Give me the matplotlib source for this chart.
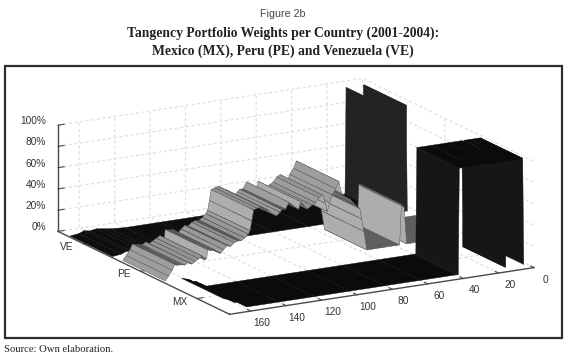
import matplotlib
matplotlib.use("Agg")
import matplotlib.pyplot as plt
from matplotlib.patches import Rectangle
from mpl_toolkits.mplot3d.art3d import Poly3DCollection
from mpl_toolkits.mplot3d import proj3d

# ---- data (period index, weight %) ----
countries = ["VE", "PE", "MX"]
x_ticks = [0, 20, 40, 60, 80, 100, 120, 140, 160]
z_ticks = [0, 20, 40, 60, 80, 100]
z_labels = ["0%", "20%", "40%", "60%", "80%", "100%"]

ve_x = [171, 166, 163, 160, 156, 152, 148, 140, 120, 100, 80, 60, 40, 16, 15.6, 15, 14.4, 5.6, 5, 4.4]
ve_z = [0, 1, 3, 2, 3, 2, 1, 0, 0, 0, 0, 0, 0, 0, 0, 100, 0, 0, 100, 0]

pe_x = [170, 168, 166, 164.5, 163, 161, 159, 157, 155, 153, 151, 149, 147.5, 146.5, 146, 144, 142, 140,
        138.7, 137, 135, 133, 131, 129, 127, 125, 123, 122, 121, 120, 118, 116, 114, 112, 110, 108, 107,
        105, 104, 102, 100, 98, 96, 94.5, 93.5, 91.5, 89.7, 87, 85, 83, 81, 79.5, 78.4, 77, 75.6, 73.5,
        71.8, 70.3, 68, 65.3, 63, 60, 59, 57.7, 56, 47, 37.5, 36.5, 35, 33.5, 20, 4]
pe_z = [0, 4, 9, 14, 13, 13, 12, 14, 12, 14, 16, 18, 14, 15, 23, 22, 22, 19,
        18, 21, 24, 23, 26, 27, 27, 29, 32, 35, 44, 54, 55, 56, 52, 52, 48, 46, 45,
        48, 50, 50, 56, 53, 50, 48, 55, 51, 47, 50, 52, 56, 58, 50, 42, 50, 57, 62,
        68.5, 57, 53, 50, 45, 40, 30, 18, 0, 0, 0, 38, 35, 0, 0, 0]

mx_x = [171, 167, 165, 163, 160, 158, 140, 120, 100, 80, 60, 40, 38.6, 38, 30, 20, 12.6, 12, 11.4, 8, 2.2, 1.6]
mx_z = [11, 9, 6, 6, 3, 0, 0, 0, 0, 0, 0, 0, 0, 100, 100, 100, 100, 0, 100, 100, 100, 0]

W, H = 573, 359
plt.rcParams["font.family"] = ["Liberation Sans", "DejaVu Sans"]
plt.rcParams["grid.color"] = "#e0e0e0"
plt.rcParams["grid.linewidth"] = 0.9
plt.rcParams["grid.linestyle"] = (0, (2.5, 2))

fig = plt.figure(figsize=(W / 100, H / 100), dpi=100, facecolor="white")
ax = fig.add_axes([0, 0, 1, 1], projection="3d", proj_type="ortho", facecolor="none")
ax.view_init(elev=15.8, azim=60.6)
zoom = 1.0
ax.set_box_aspect((1, 1, 0.316), zoom=zoom)
XLIM, YLIM, ZLIM = (0, 172), (0.545, 3.576), (0, 100)
ax.set_xlim(*XLIM, view_margin=0)
ax.set_ylim(*YLIM, view_margin=0)
ax.set_zlim(*ZLIM, view_margin=0)


def shade(kind, dz, dx):
    m = abs(dz) / max(abs(dx), 1e-6)
    if kind == "PE":
        if dz == 0:
            return "#5f5f5f"
        if m > 5:
            return "0.68"
        return str(min(0.62, 0.54 + 0.04 * m)) if dz * dx < 0 else "0.44"
    if kind == "VE":
        return "#0e0e0e" if m < 1 else "#232323"
    return "#0b0b0b" if m < 1 else "#161616"


ribbon_y = {"VE": 1.1, "PE": 2.0, "MX": 3.07}
half = 0.375
series = {"VE": (ve_x, ve_z), "PE": (pe_x, pe_z), "MX": (mx_x, mx_z)}
quads, cols, edges = [], [], []
for name, (xs, zs) in series.items():
    y0 = ribbon_y[name]
    for i in range(len(xs) - 1):
        quads.append([(xs[i], y0 - half, zs[i]), (xs[i], y0 + half, zs[i]),
                      (xs[i + 1], y0 + half, zs[i + 1]), (xs[i + 1], y0 - half, zs[i + 1])])
        c = shade(name, zs[i + 1] - zs[i], xs[i + 1] - xs[i])
        cols.append(c)
        edges.append("#4a4a4a" if name == "PE" else c)
coll = Poly3DCollection(quads, facecolors=cols, edgecolors=edges, linewidths=0.3, zsort="average")
coll.set_clip_on(False)
ax.add_collection3d(coll)

ax.set_xticks(x_ticks)
ax.set_yticks([1, 2, 3])
ax.set_yticklabels([])
ax.set_zticks(z_ticks)
ax.set_zticklabels([])
ax.set_xticklabels([])
for axis in (ax.xaxis, ax.yaxis, ax.zaxis):
    axis.set_pane_color((1, 1, 1, 0))
    axis.pane.set_edgecolor("none")
    axis.line.set_color("#4a4a4a")
    axis.line.set_linewidth(1.0)
    axis._axinfo["tick"]["inward_factor"] = 0.0
    axis._axinfo["tick"]["outward_factor"] = 0.25
    axis._axinfo["tick"]["linewidth"] = {True: 0.8, False: 0.5}
    axis._axinfo["tick"]["color"] = "#4a4a4a"
ax.tick_params(axis="both", colors="#4a4a4a")

# fit the projected box to the reference's floor corners
fig.canvas.draw()


def to_px(x, y, z):
    a, b, _ = proj3d.proj_transform(x, y, z, ax.get_proj())
    return ax.transData.transform((a, b))


target_l = (58, H - 232)
target_r = (534, H - 267)
p_l, p_r = to_px(XLIM[1], YLIM[0], 0), to_px(XLIM[0], YLIM[1], 0)
scale = (target_r[0] - target_l[0]) / (p_r[0] - p_l[0])
zoom *= scale
ax.set_box_aspect((1, 1, 0.316), zoom=zoom)
fig.canvas.draw()
p_l, p_r = to_px(XLIM[1], YLIM[0], 0), to_px(XLIM[0], YLIM[1], 0)
dx = (target_l[0] + target_r[0] - p_l[0] - p_r[0]) / 2
dy = (target_l[1] + target_r[1] - p_l[1] - p_r[1]) / 2
ax.set_position([dx / W, dy / H, 1, 1])
fig.canvas.draw()


def tick_text(x, y, z, off_x, off_y, label, ha):
    px = to_px(x, y, z)
    fig.text((px[0] + off_x) / W, (px[1] - off_y) / H, label, ha=ha, va="center",
             fontsize=7.3, color="#333333")


for t in x_ticks:
    tick_text(t, YLIM[1], 0, 11, 12, str(t), "center")
for t, lab in zip([1, 2, 3], countries):
    tick_text(XLIM[1], t, 0, -10, 3, lab, "right")
for t, lab in zip(z_ticks, z_labels):
    tick_text(XLIM[1], YLIM[0], t, -12, -4, lab, "right")

# frame and texts
fig.add_artist(Rectangle((4.5 / W, 1 - 338 / H), 557 / W, 272 / H, transform=fig.transFigure,
                         fill=False, edgecolor="#2e2e2e", linewidth=1.6))
fig.text(283 / W, 1 - 14 / H, "Figure 2b", ha="center", va="center", fontsize=7.7, color="#444444")
serif = ["Liberation Serif", "DejaVu Serif"]
fig.text(283 / W, 1 - 33.5 / H, "Tangency Portfolio Weights per Country (2001-2004):", ha="center", va="center",
         fontsize=9.85, fontweight="bold", family=serif, color="#222222")
fig.text(283 / W, 1 - 51.5 / H, "Mexico (MX), Peru (PE) and Venezuela (VE)", ha="center", va="center",
         fontsize=9.85, fontweight="bold", family=serif, color="#222222")
fig.text(4 / W, 1 - 350 / H, "Source: Own elaboration.", ha="left", va="center",
         fontsize=7.7, family=serif, color="#222222")
fig.savefig("out.png", dpi=100)
